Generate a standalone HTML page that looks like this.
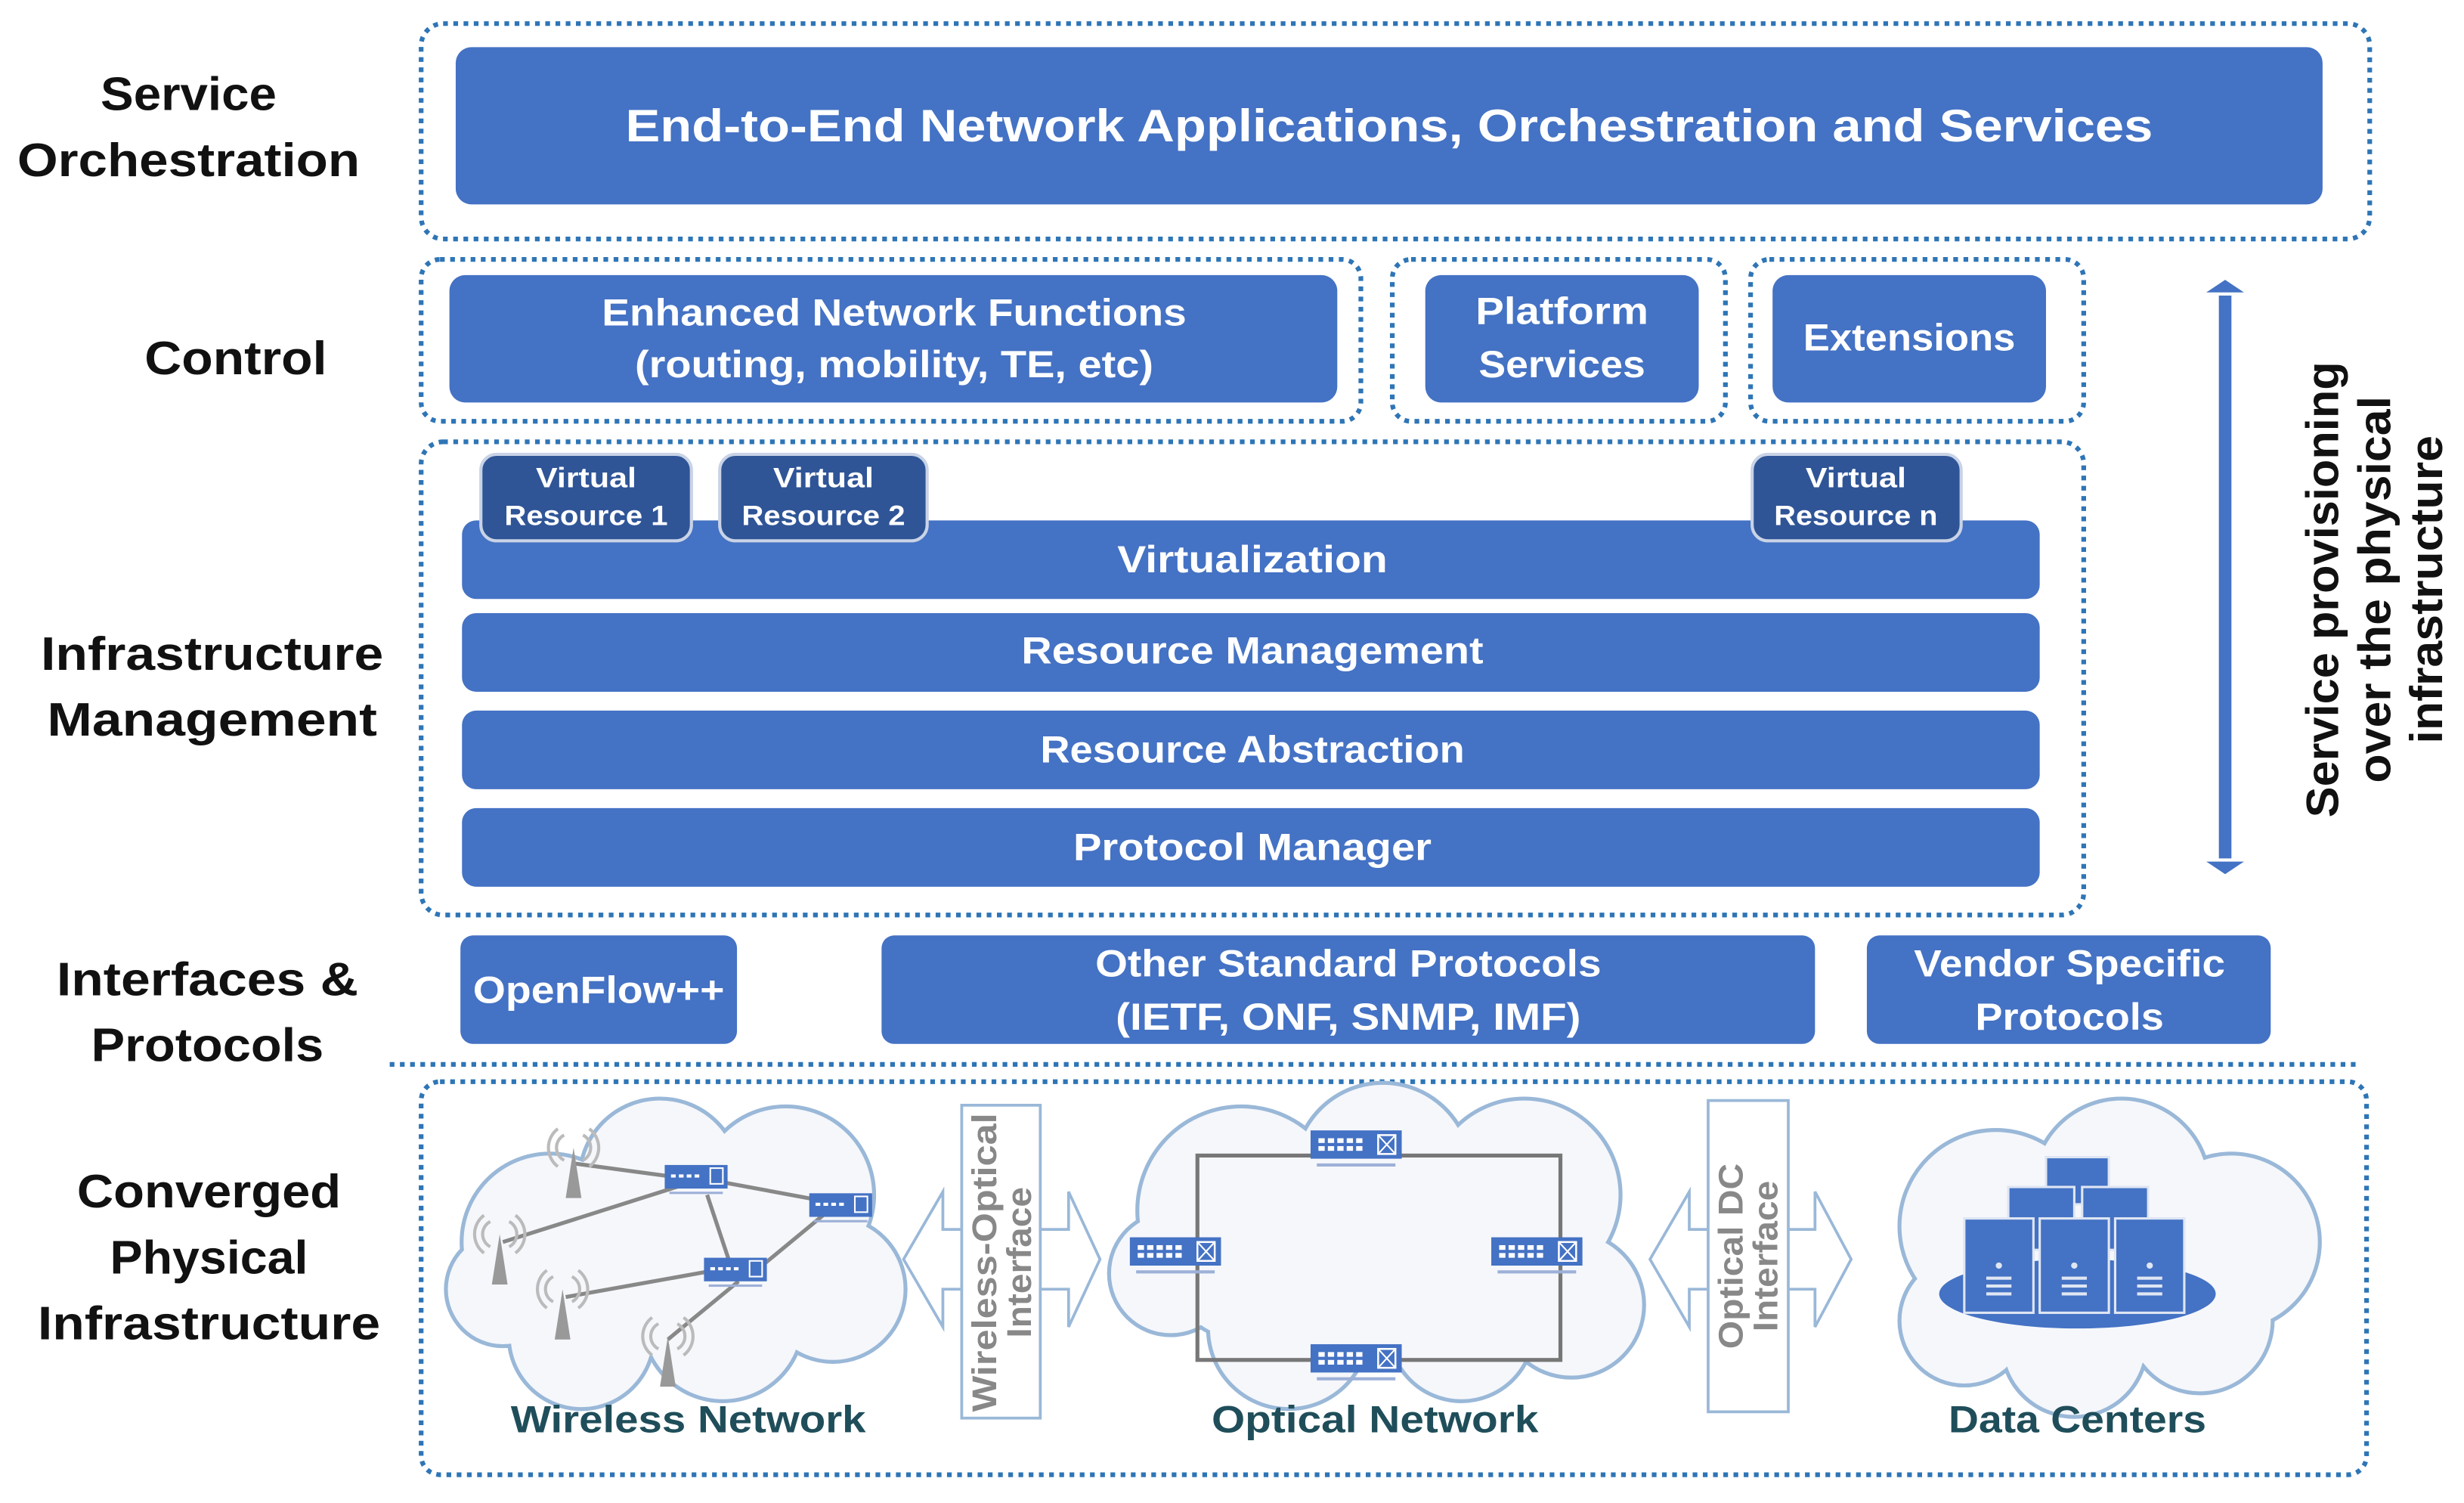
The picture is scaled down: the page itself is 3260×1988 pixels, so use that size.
<!DOCTYPE html>
<html><head><meta charset="utf-8"><style>
html,body{margin:0;padding:0;background:#fff;}
svg{display:block;}
text{font-family:"Liberation Sans",sans-serif;font-weight:bold;}
</style></head><body>
<svg width="3260" height="1988" viewBox="0 0 1568 956" preserveAspectRatio="none" xmlns="http://www.w3.org/2000/svg">
<defs>
<g id="sw">
 <rect x="0" y="0" width="58" height="18" fill="#4472c4"/>
 <g fill="#fff"><rect x="5" y="5" width="4" height="3"/><rect x="11" y="5" width="4" height="3"/><rect x="17" y="5" width="4" height="3"/><rect x="23" y="5" width="4" height="3"/><rect x="29" y="5" width="4" height="3"/>
 <rect x="5" y="10" width="4" height="3"/><rect x="11" y="10" width="4" height="3"/><rect x="17" y="10" width="4" height="3"/><rect x="23" y="10" width="4" height="3"/><rect x="29" y="10" width="4" height="3"/></g>
 <rect x="43" y="3" width="11" height="12" fill="none" stroke="#fff" stroke-width="1.2"/>
 <path d="M43 3L54 15M54 3L43 15" stroke="#fff" stroke-width="1"/>
 <rect x="4" y="21" width="50" height="2" fill="#9db0d8"/>
</g>
<g id="ssw">
 <rect x="0" y="0" width="40" height="15" fill="#4472c4"/>
 <g fill="#fff"><rect x="4" y="6" width="3" height="2"/><rect x="9" y="6" width="3" height="2"/><rect x="14" y="6" width="3" height="2"/><rect x="19" y="6" width="3" height="2"/></g>
 <rect x="29" y="2" width="8" height="10" fill="none" stroke="#fff" stroke-width="1"/>
 <rect x="3" y="17" width="34" height="1.5" fill="#9db0d8"/>
</g>
<g id="ant" fill="none" stroke="#999" stroke-width="2">
 <path d="M0 0L-5 32L5 32Z" fill="#999" stroke="none"/>
 <path d="M-6 -8A9 9 0 0 0 -6 8M6 -8A9 9 0 0 1 6 8M-10 -12A15 15 0 0 0 -10 12M10 -12A15 15 0 0 1 10 12" stroke="#bbb"/>
</g>
<g id="clouds">
  <circle cx="350" cy="790" r="55"/><circle cx="420" cy="750" r="50"/><circle cx="500" cy="760" r="55"/><circle cx="530" cy="820" r="45"/><circle cx="460" cy="840" r="50"/><circle cx="370" cy="850" r="45"/><circle cx="320" cy="820" r="35"/>
  <ellipse cx="430" cy="800" rx="110" ry="60"/>
  <circle cx="790" cy="770" r="65"/><circle cx="880" cy="745" r="55"/><circle cx="970" cy="760" r="60"/><circle cx="1000" cy="830" r="45"/><circle cx="930" cy="845" r="45"/><circle cx="820" cy="845" r="50"/><circle cx="745" cy="810" r="38"/>
  <ellipse cx="875" cy="800" rx="140" ry="70"/>
  <circle cx="1270" cy="780" r="60"/><circle cx="1350" cy="755" r="55"/><circle cx="1420" cy="790" r="55"/><circle cx="1400" cy="840" r="45"/><circle cx="1320" cy="855" r="45"/><circle cx="1250" cy="840" r="40"/>
  <ellipse cx="1330" cy="805" rx="110" ry="65"/>
</g>
</defs>

<g fill="none" stroke="#2e75b6" stroke-width="3" stroke-dasharray="3 3.5">
 <rect x="268" y="15" width="1240" height="137" rx="14"/>
 <rect x="268" y="165" width="598" height="103" rx="12"/>
 <rect x="886" y="165" width="212" height="103" rx="12"/>
 <rect x="1114" y="165" width="212" height="103" rx="12"/>
 <rect x="268" y="281" width="1058" height="301" rx="14"/>
 <line x1="248" y1="677" x2="1500" y2="677"/>
 <rect x="268" y="688" width="1238" height="250" rx="12"/>
</g>

<g fill="#4472c4">
 <rect x="290" y="30" width="1188" height="100" rx="10"/>
 <rect x="286" y="175" width="565" height="81" rx="10"/>
 <rect x="907" y="175" width="174" height="81" rx="10"/>
 <rect x="1128" y="175" width="174" height="81" rx="10"/>
 <rect x="294" y="331" width="1004" height="50" rx="9"/>
 <rect x="294" y="390" width="1004" height="50" rx="9"/>
 <rect x="294" y="452" width="1004" height="50" rx="9"/>
 <rect x="294" y="514" width="1004" height="50" rx="9"/>
 <rect x="293" y="595" width="176" height="69" rx="8"/>
 <rect x="561" y="595" width="594" height="69" rx="8"/>
 <rect x="1188" y="595" width="257" height="69" rx="8"/>
</g>
<g fill="#2f5597" stroke="#c9d3e6" stroke-width="2">
 <rect x="306" y="289" width="134" height="55" rx="10"/>
 <rect x="458" y="289" width="132" height="55" rx="10"/>
 <rect x="1115" y="289" width="133" height="55" rx="10"/>
</g>

<g fill="#fff" text-anchor="middle" font-size="26">
 <text x="884" y="90" font-size="29" textLength="972" lengthAdjust="spacingAndGlyphs">End-to-End Network Applications, Orchestration and Services</text>
 <text x="569" y="207" font-size="24" textLength="372" lengthAdjust="spacingAndGlyphs">Enhanced Network Functions</text>
 <text x="569" y="240" font-size="24" textLength="330" lengthAdjust="spacingAndGlyphs">(routing, mobility, TE, etc)</text>
 <text x="994" y="206" font-size="24" textLength="110" lengthAdjust="spacingAndGlyphs">Platform</text>
 <text x="994" y="240" font-size="24" textLength="106" lengthAdjust="spacingAndGlyphs">Services</text>
 <text x="1215" y="223" font-size="24" textLength="135" lengthAdjust="spacingAndGlyphs">Extensions</text>
 <text x="373" y="310" font-size="18" textLength="64" lengthAdjust="spacingAndGlyphs">Virtual</text>
 <text x="373" y="334" font-size="18" textLength="104" lengthAdjust="spacingAndGlyphs">Resource 1</text>
 <text x="524" y="310" font-size="18" textLength="64" lengthAdjust="spacingAndGlyphs">Virtual</text>
 <text x="524" y="334" font-size="18" textLength="104" lengthAdjust="spacingAndGlyphs">Resource 2</text>
 <text x="1181" y="310" font-size="18" textLength="64" lengthAdjust="spacingAndGlyphs">Virtual</text>
 <text x="1181" y="334" font-size="18" textLength="104" lengthAdjust="spacingAndGlyphs">Resource n</text>
 <text x="797" y="364" font-size="24" textLength="172" lengthAdjust="spacingAndGlyphs">Virtualization</text>
 <text x="797" y="422" font-size="24" textLength="294" lengthAdjust="spacingAndGlyphs">Resource Management</text>
 <text x="797" y="485" font-size="24" textLength="270" lengthAdjust="spacingAndGlyphs">Resource Abstraction</text>
 <text x="797" y="547" font-size="24" textLength="228" lengthAdjust="spacingAndGlyphs">Protocol Manager</text>
 <text x="381" y="638" font-size="24" textLength="160" lengthAdjust="spacingAndGlyphs">OpenFlow++</text>
 <text x="858" y="621" font-size="24" textLength="322" lengthAdjust="spacingAndGlyphs">Other Standard Protocols</text>
 <text x="858" y="655" font-size="24" textLength="296" lengthAdjust="spacingAndGlyphs">(IETF, ONF, SNMP, IMF)</text>
 <text x="1317" y="621" font-size="24" textLength="198" lengthAdjust="spacingAndGlyphs">Vendor Specific</text>
 <text x="1317" y="655" font-size="24" textLength="120" lengthAdjust="spacingAndGlyphs">Protocols</text>
</g>

<g fill="#111" text-anchor="middle" font-size="30">
 <text x="120" y="70" textLength="112" lengthAdjust="spacingAndGlyphs">Service</text>
 <text x="120" y="112" textLength="218" lengthAdjust="spacingAndGlyphs">Orchestration</text>
 <text x="150" y="238" textLength="116" lengthAdjust="spacingAndGlyphs">Control</text>
 <text x="135" y="426" textLength="218" lengthAdjust="spacingAndGlyphs">Infrastructure</text>
 <text x="135" y="468" textLength="210" lengthAdjust="spacingAndGlyphs">Management</text>
 <text x="132" y="633" textLength="192" lengthAdjust="spacingAndGlyphs">Interfaces &amp;</text>
 <text x="132" y="675" textLength="148" lengthAdjust="spacingAndGlyphs">Protocols</text>
 <text x="133" y="768" textLength="168" lengthAdjust="spacingAndGlyphs">Converged</text>
 <text x="133" y="810" textLength="126" lengthAdjust="spacingAndGlyphs">Physical</text>
 <text x="133" y="852" textLength="218" lengthAdjust="spacingAndGlyphs">Infrastructure</text>
</g>

<rect x="1412" y="188" width="8" height="358" fill="#4472c4"/>
<path d="M1404 186L1416 178L1428 186Z M1404 548L1416 556L1428 548Z" fill="#4472c4"/>
<g transform="translate(1505 375) rotate(-90)" text-anchor="middle" fill="#111" font-size="29">
 <text x="0" y="-17" textLength="290" lengthAdjust="spacingAndGlyphs">Service provisioning</text>
 <text x="0" y="16" textLength="246" lengthAdjust="spacingAndGlyphs">over the physical</text>
 <text x="0" y="49" textLength="196" lengthAdjust="spacingAndGlyphs">infrastructure</text>
</g>

<use href="#clouds" fill="#9ab8d8" stroke="#9ab8d8" stroke-width="5"/>
<use href="#clouds" fill="#f5f7fb" stroke="none"/>

<g stroke="#888" stroke-width="2.5">
 <line x1="365" y1="740" x2="440" y2="750"/><line x1="320" y1="790" x2="440" y2="752"/><line x1="460" y1="752" x2="530" y2="765"/>
 <line x1="450" y1="760" x2="465" y2="805"/><line x1="485" y1="805" x2="525" y2="772"/><line x1="360" y1="825" x2="455" y2="808"/><line x1="425" y1="852" x2="470" y2="815"/>
</g>
<use href="#ant" x="365" y="730"/><use href="#ant" x="318" y="785"/><use href="#ant" x="358" y="820"/><use href="#ant" x="425" y="850"/>
<use href="#ssw" x="423" y="741"/><use href="#ssw" x="515" y="759"/><use href="#ssw" x="448" y="800"/>

<rect x="762" y="735" width="231" height="130" fill="none" stroke="#777" stroke-width="2.5"/>
<use href="#sw" x="834" y="719"/><use href="#sw" x="719" y="787"/><use href="#sw" x="949" y="787"/><use href="#sw" x="834" y="855"/>

<ellipse cx="1322" cy="823" rx="88" ry="22" fill="#4472c4"/>
<g fill="#4472c4" stroke="#dfe6f3" stroke-width="1.5">
 <rect x="1302" y="736" width="40" height="30"/><rect x="1278" y="755" width="42" height="40"/><rect x="1325" y="755" width="42" height="40"/>
 <rect x="1250" y="775" width="44" height="60"/><rect x="1298" y="775" width="44" height="60"/><rect x="1346" y="775" width="44" height="60"/>
</g>
<g fill="#dfe6f3">
 <rect x="1264" y="812" width="16" height="2"/><rect x="1264" y="817" width="16" height="2"/><rect x="1264" y="822" width="16" height="2"/><circle cx="1272" cy="805" r="2"/>
 <rect x="1312" y="812" width="16" height="2"/><rect x="1312" y="817" width="16" height="2"/><rect x="1312" y="822" width="16" height="2"/><circle cx="1320" cy="805" r="2"/>
 <rect x="1360" y="812" width="16" height="2"/><rect x="1360" y="817" width="16" height="2"/><rect x="1360" y="822" width="16" height="2"/><circle cx="1368" cy="805" r="2"/>
</g>

<g fill="#fff" stroke="#9ab8d8" stroke-width="1.8">
 <path d="M575 801L600 758L600 782L680 782L680 758L700 801L680 844L680 820L600 820L600 844Z"/>
 <rect x="612" y="703" width="50" height="199"/>
 <path d="M1050 801L1075 758L1075 782L1155 782L1155 758L1178 801L1155 844L1155 820L1075 820L1075 844Z"/>
 <rect x="1087" y="700" width="51" height="198"/>
</g>
<g fill="#fff"><rect x="613" y="783" width="48" height="36"/><rect x="1088" y="783" width="49" height="36"/></g>
<g fill="#888" text-anchor="middle" font-size="22">
 <g transform="translate(637 803) rotate(-90)"><text x="0" y="-3" textLength="190" lengthAdjust="spacingAndGlyphs">Wireless-Optical</text><text x="0" y="19" textLength="96" lengthAdjust="spacingAndGlyphs">Interface</text></g>
 <g transform="translate(1112 799) rotate(-90)"><text x="0" y="-3" textLength="118" lengthAdjust="spacingAndGlyphs">Optical DC</text><text x="0" y="19" textLength="96" lengthAdjust="spacingAndGlyphs">Interface</text></g>
</g>

<g fill="#1f4e5a" text-anchor="middle" font-size="24">
 <text x="438" y="911" textLength="226" lengthAdjust="spacingAndGlyphs">Wireless Network</text>
 <text x="875" y="911" textLength="208" lengthAdjust="spacingAndGlyphs">Optical Network</text>
 <text x="1322" y="911" textLength="164" lengthAdjust="spacingAndGlyphs">Data Centers</text>
</g>
</svg>
</body></html>
